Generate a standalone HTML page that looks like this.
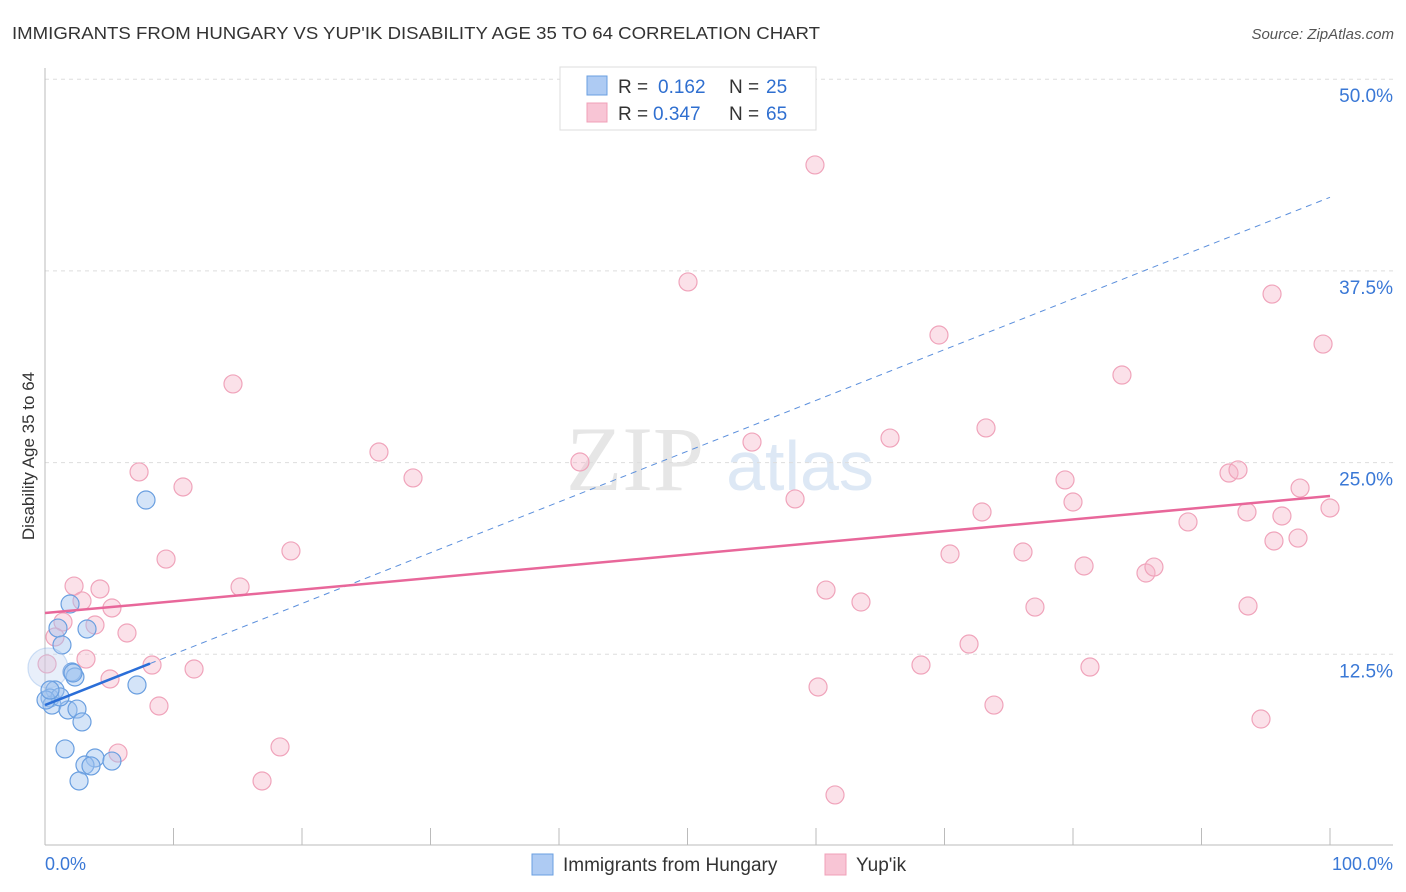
<!DOCTYPE html>
<html><head><meta charset="utf-8"><style>
body{margin:0;background:#fff;font-family:"Liberation Sans",sans-serif;}
svg{display:block}
</style></head><body>
<svg id="c" width="1406" height="892">
<text x="12" y="39" font-size="17.5" fill="#333" textLength="808" lengthAdjust="spacingAndGlyphs">IMMIGRANTS FROM HUNGARY VS YUP'IK DISABILITY AGE 35 TO 64 CORRELATION CHART</text>
<text x="1394" y="39" font-size="15" fill="#555" font-style="italic" text-anchor="end">Source: ZipAtlas.com</text>
<text x="34" y="456" font-size="17" fill="#333" text-anchor="middle" transform="rotate(-90 34 456)">Disability Age 35 to 64</text>
<g><text x="635" y="490" font-size="92" fill="#e6e6e6" font-family="Liberation Serif,serif" text-anchor="middle">ZIP</text><text x="800" y="490" font-size="70" fill="#dde8f5" text-anchor="middle">atlas</text></g>
<g id="grid"></g><g id="marks"></g>
<g>
<rect x="560" y="67" width="256" height="63" fill="#fff" stroke="#ddd"/>
<rect x="587" y="76" width="20" height="19" fill="#aecbf3" stroke="#6a9fe0"/>
<rect x="587" y="103" width="20" height="19" fill="#f8c5d5" stroke="#f0a0b8"/>
<text x="618" y="93" font-size="19" fill="#333">R =</text>
<text x="658" y="93" font-size="19" fill="#2f6fd0">0.162</text>
<text x="729" y="93" font-size="19" fill="#333">N =</text>
<text x="766" y="93" font-size="19" fill="#2f6fd0">25</text>
<text x="618" y="120" font-size="19" fill="#333">R =</text>
<text x="653" y="120" font-size="19" fill="#2f6fd0">0.347</text>
<text x="729" y="120" font-size="19" fill="#333">N =</text>
<text x="766" y="120" font-size="19" fill="#2f6fd0">65</text>
</g>
<g>
<rect x="532" y="854" width="21" height="21" fill="#aecbf3" stroke="#6a9fe0"/>
<text x="563" y="871" font-size="19" fill="#333">Immigrants from Hungary</text>
<rect x="825" y="854" width="21" height="21" fill="#f8c5d5" stroke="#f0a0b8"/>
<text x="856" y="871" font-size="19" fill="#333">Yup'ik</text>
</g>
<text x="45" y="870" font-size="18" fill="#3a78d6">0.0%</text>
<text x="1393" y="870" font-size="18" fill="#3a78d6" text-anchor="end">100.0%</text>
</svg>
<script>
const yTicks=[12.5,25,37.5,50];
const yTickLabels=["12.5%","25.0%","37.5%","50.0%"];
const blueX=[7.86,1.95,1.01,3.27,1.32,2.10,2.33,0.23,0.78,0.39,0.54,1.79,2.49,2.88,7.16,1.56,3.89,3.11,3.58,5.21,2.65,1.17,0.08,2.18,0.39];
const blueY=[22.56,15.78,14.21,14.15,13.11,11.35,11.02,11.61,10.17,9.65,9.19,8.87,8.93,8.09,10.50,6.33,5.74,5.28,5.22,5.54,4.24,9.72,9.52,11.28,10.17];
const pinkX=[59.92,50.04,95.49,69.57,99.46,14.63,83.81,25.99,55.02,65.76,73.23,41.63,7.32,28.64,79.38,92.14,92.84,10.74,58.37,80.00,97.67,100.0,72.92,93.54,88.95,96.26,19.14,9.42,70.43,76.11,95.64,97.51,2.26,4.28,15.18,80.86,85.68,86.30,60.78,2.88,5.21,63.50,77.04,93.62,1.40,3.89,6.38,0.78,71.91,3.19,0.16,8.33,11.60,68.17,81.32,5.06,60.16,8.87,73.85,94.63,5.68,18.29,16.89,61.48];
const pinkY=[44.41,36.78,35.99,33.32,32.73,30.13,30.71,25.69,26.34,26.60,27.26,25.04,24.39,24.00,23.87,24.32,24.52,23.41,22.63,22.43,23.34,22.04,21.78,21.78,21.13,21.52,19.24,18.71,19.04,19.17,19.89,20.08,16.95,16.76,16.89,18.26,17.80,18.19,16.69,15.98,15.52,15.91,15.58,15.65,14.61,14.41,13.89,13.63,13.17,12.19,11.87,11.80,11.54,11.80,11.67,10.89,10.37,9.13,9.19,8.28,6.06,6.46,4.24,3.33];
const pinkTrend=[15.19,22.82];
const blueTrend=[9.19,42.3];
const blueSolidEnd=8.17;
const NS="http://www.w3.org/2000/svg";
const X0=45,X1=1330,Y0=846,PER=191.7/12.5;
const sx=v=>X0+(X1-X0)*v/100, sy=v=>Y0-v*PER;
function mk(t,a,p){const e=document.createElementNS(NS,t);for(const k in a)e.setAttribute(k,a[k]);p.appendChild(e);return e;}
const g=document.getElementById('grid'),m=document.getElementById('marks');
yTicks.forEach((t,i)=>{
 const l=mk('line',{x1:45,x2:1393,y1:sy(t),y2:sy(t),stroke:'#ddd','stroke-dasharray':'4,4'},g);
 
 
 const tx=mk('text',{x:1393,y:sy(t)+23,'font-size':19,fill:'#3a78d6','text-anchor':'end'},g);
 tx.textContent=yTickLabels[i];
 
 
});
const ax=mk('line',{x1:45,x2:1393,y1:845,y2:845,stroke:'#bbb'},g);


const ay=mk('line',{x1:45,x2:45,y1:68,y2:845,stroke:'#bbb'},g);


for(let i=0;i<=10;i++){
 const t=mk('line',{x1:sx(i*10),x2:sx(i*10),y1:828,y2:845,stroke:'#bbb'},g);
 
 
}
pinkX.forEach((x,i)=>{
 const c=mk('circle',{cx:sx(x),cy:sy(pinkY[i]),r:9,fill:'rgba(246,180,200,0.4)',stroke:'#f0a4bb','stroke-width':1.2},m);
 
 
});
blueX.forEach((x,i)=>{
 const big=i==7;
 const c=mk('circle',{cx:sx(x),cy:sy(blueY[i]),r:big?20:9,fill:big?'rgba(190,210,240,0.35)':'rgba(160,196,240,0.45)',stroke:big?'rgba(106,159,224,0.3)':'#6a9fe0','stroke-width':1.2},m);
 
 
});
const bf=v=>blueTrend[0]+(blueTrend[1]-blueTrend[0])*v/100;
const bd=mk('line',{x1:sx(blueSolidEnd),y1:sy(bf(blueSolidEnd)),x2:sx(100),y2:sy(blueTrend[1]),stroke:'#5b8fdc','stroke-width':1,'stroke-dasharray':'6,5'},m);


const bs=mk('line',{x1:sx(0),y1:sy(blueTrend[0]),x2:sx(blueSolidEnd),y2:sy(bf(blueSolidEnd)),stroke:'#2a6ed8','stroke-width':2.5},m);


const pt=mk('line',{x1:sx(0),y1:sy(pinkTrend[0]),x2:sx(100),y2:sy(pinkTrend[1]),stroke:'#e8679a','stroke-width':2.5},m);


</script>
</body></html>
